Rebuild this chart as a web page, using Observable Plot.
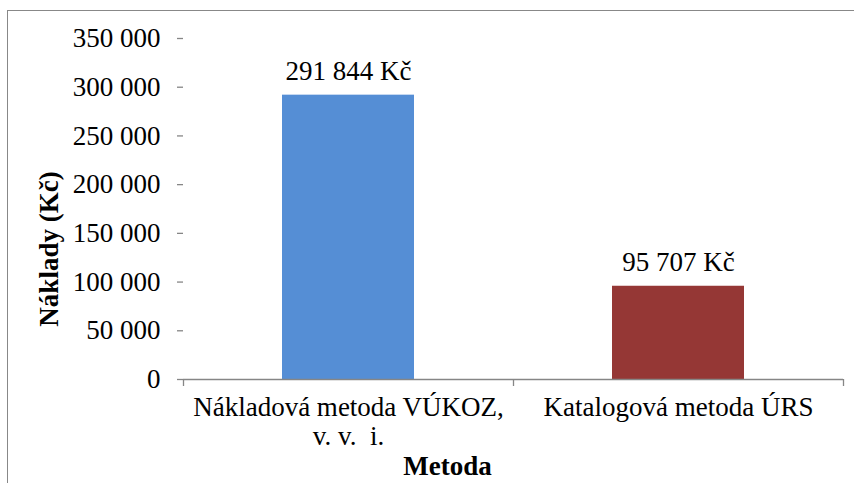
<!DOCTYPE html>
<html>
<head>
<meta charset="utf-8">
<script src="https://cdn.jsdelivr.net/npm/d3@7"></script>
<script src="https://cdn.jsdelivr.net/npm/@observablehq/plot@0.6"></script>
<style>
  html, body { margin: 0; padding: 0; background: #fff; }
  #wrap { position: relative; width: 854px; height: 483px; overflow: hidden; }
  #frame { position: absolute; left: 7px; top: 10px; width: 900px; height: 600px; border: 1px solid #888; box-sizing: border-box; }
  #chart { position: absolute; left: 0; top: 0; }
</style>
</head>
<body>
<div id="wrap"><div id="frame"></div><div id="chart"></div></div>
<script>
const categories = ["Nákladová metoda VÚKOZ,\nv. v.  i.", "Katalogová metoda ÚRS"];
const values = [291844, 95707];
const colors = ["#558ED5", "#953735"];
const yTicks = [0, 50000, 100000, 150000, 200000, 250000, 300000, 350000];
const yLabel = "Náklady (Kč)";
const xLabel = "Metoda";

const data = categories.map((c, i) => ({cat: c, value: values[i], color: colors[i]}));
const fmt = v => d3.format(",")(v).replace(/,/g, " ");
const font = "Liberation Serif";

const chart = Plot.plot({
  width: 854,
  height: 483,
  marginLeft: 183,
  marginRight: 11,
  marginTop: 38,
  marginBottom: 104,
  style: {fontSize: "27px", fontFamily: "'Liberation Serif', serif", color: "#000", background: "transparent"},
  x: {domain: categories, padding: 0},
  y: {domain: [0, 350000]},
  marks: [
    Plot.barY(data, {x: "cat", y: "value", fill: "color", insetLeft: 99, insetRight: 99}),
    Plot.text(data, {x: "cat", y: "value", text: d => fmt(d.value) + " Kč", dy: -24, fontSize: 27, fontFamily: font, fill: "#000"}),
    Plot.ruleY([0], {stroke: "#868686", strokeWidth: 1.3}),
    Plot.ruleX(categories, {x: d => d, y1: 0, y2: 0, dx: -165, insetBottom: -7, stroke: "#868686", strokeWidth: 1.3}),
    Plot.ruleX([categories[categories.length - 1]], {x: d => d, y1: 0, y2: 0, dx: 165, insetBottom: -7, stroke: "#868686", strokeWidth: 1.3}),
    Plot.axisY({ticks: yTicks, tickFormat: fmt, tickSize: 6, tickPadding: 17, stroke: "#868686", strokeWidth: 1.3, line: true, label: null, fontSize: 27, fontFamily: font, fill: "#000"}),
    Plot.axisX({tickSize: 0, tickPadding: 16, label: null, fontSize: 27, fontFamily: font, lineHeight: 1.08, fill: "#000"}),
    Plot.text([yLabel], {frameAnchor: "left", text: d => d, rotate: -90, textAnchor: "middle", lineAnchor: "middle", dx: -134, dy: 40, fontWeight: "bold", fontSize: 27, fontFamily: font, fill: "#000"}),
    Plot.text([xLabel], {frameAnchor: "bottom", text: d => d, textAnchor: "middle", lineAnchor: "middle", dx: -66, dy: 87, fontWeight: "bold", fontSize: 27, fontFamily: font, fill: "#000"})
  ]
});
document.getElementById("chart").appendChild(chart);
</script>
</body>
</html>
